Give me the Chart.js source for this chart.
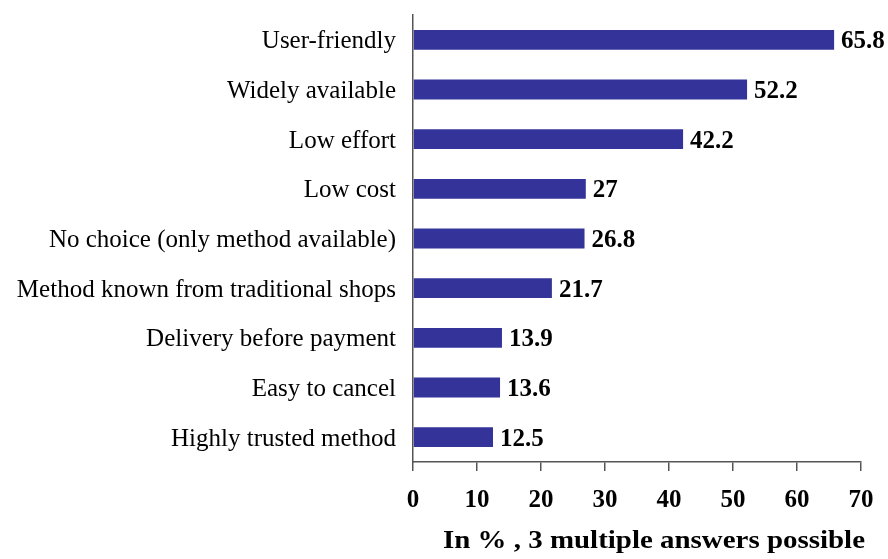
<!DOCTYPE html>
<html><head><meta charset="utf-8">
<script src="https://cdn.jsdelivr.net/npm/chart.js@4/dist/chart.umd.min.js"></script>
<style>html,body{margin:0;padding:0;background:#fff}#wrap{width:888px;height:559px}</style>
</head><body><div id="wrap"><canvas id="c" width="888" height="559"></canvas></div>
<script>
const categories = ["User-friendly","Widely available","Low effort","Low cost","No choice (only method available)","Method known from traditional shops","Delivery before payment","Easy to cancel","Highly trusted method"];
const values = [65.8,52.2,42.2,27,26.8,21.7,13.9,13.6,12.5];
const xTicks = [0,10,20,30,40,50,60,70];
const axisTitle = "In % , 3 multiple answers possible";

const FONT = "'Liberation Serif','Times New Roman',serif";

const labelPlugin = {
  id:'barLabels',
  afterDatasetsDraw(chart){
    const ctx = chart.ctx;
    const meta = chart.getDatasetMeta(0);
    ctx.save();
    ctx.font = "bold 25px " + FONT;
    ctx.fillStyle = "#000";
    ctx.textAlign = "left";
    ctx.textBaseline = "middle";
    meta.data.forEach((bar,i)=>{
      ctx.fillText(String(values[i]), bar.x + 7, bar.y + 2);
    });
    // axis title
    ctx.font = "bold 25px " + FONT;
    ctx.textAlign = "center";
    ctx.textBaseline = "alphabetic";
    const w = ctx.measureText(axisTitle).width;
    const target = 422;
    const sx = target / w;
    ctx.translate(654, 548);
    ctx.scale(sx, 1);
    ctx.fillText(axisTitle, 0, 0);
    ctx.restore();
  }
};

new Chart(document.getElementById('c'), {
  type:'bar',
  data:{labels:categories, datasets:[{data:values, backgroundColor:'#333399', borderWidth:0, barPercentage:0.8, categoryPercentage:0.5}]},
  options:{
    indexAxis:'y', responsive:false, animation:false,
    layout:{padding:{top:15,right:27,bottom:0,left:0}},
    plugins:{legend:{display:false}, tooltip:{enabled:false}},
    scales:{
      x:{min:0,max:70, afterBuildTicks(s){s.ticks = xTicks.map(v=>({value:v}));},
        afterFit(s){s.height = 97; s.paddingLeft = 0; s.paddingRight = 0;},
        grid:{display:true, drawOnChartArea:false, drawTicks:true, tickLength:9, color:'#555', lineWidth:1.5},
        border:{display:true,color:'#555',width:1.5},
        ticks:{color:'#000', font:{family:FONT,size:25,weight:'bold'}, padding:15, maxRotation:0},
        title:{display:false}
      },
      y:{afterFit(s){s.width=413; s.paddingTop = 0; s.paddingBottom = 0;},
        grid:{display:true, drawOnChartArea:false, drawTicks:false},
        border:{display:true,color:'#555',width:1.5},
        ticks:{color:'#000', font:{family:FONT,size:25}, padding:17, labelOffset:2}
      }
    }
  },
  plugins:[labelPlugin]
});
</script></body></html>
